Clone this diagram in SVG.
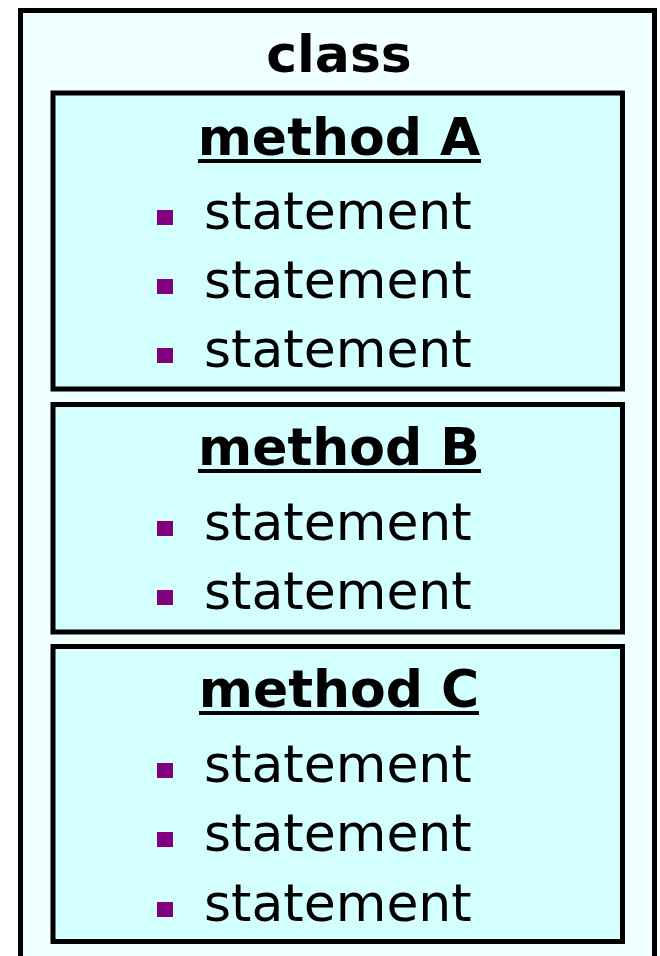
<svg xmlns="http://www.w3.org/2000/svg" width="660" height="956" viewBox="0 0 660 956">
<style>
.outer{fill:#F0FFFF;stroke:#000;stroke-width:5}
.box{fill:#D4FFFF;stroke:#000;stroke-width:5}
.title{font-family:"DejaVu Sans",Verdana,sans-serif;font-weight:bold;font-size:52px;fill:#000;text-anchor:middle}
.head{font-family:"DejaVu Sans",Verdana,sans-serif;font-weight:bold;font-size:52px;fill:#000;text-anchor:middle}
.st{font-family:"DejaVu Sans",Verdana,sans-serif;font-size:52px;fill:#000}
.bul{fill:#800080}
.ul{stroke:#000;stroke-width:4}
</style>
<g id="class">
<rect class="outer" x="20.5" y="10.5" width="634" height="980"/>
<text class="title" x="339" y="72">class</text>
</g>
<g id="methodA">
<rect class="box" x="53" y="93" width="569.5" height="296"/>
<text class="head" x="339" y="155">method A</text>
<line class="ul" x1="198" y1="161" x2="481" y2="161"/>
<rect class="bul" x="157" y="210" width="16" height="15"/>
<text class="st" x="204" y="229">statement</text>
<rect class="bul" x="157" y="279" width="16" height="15"/>
<text class="st" x="204" y="298">statement</text>
<rect class="bul" x="157" y="348" width="16" height="15"/>
<text class="st" x="204" y="367">statement</text>
</g>
<g id="methodB">
<rect class="box" x="53" y="404.5" width="569.5" height="227.5"/>
<text class="head" x="339" y="465">method B</text>
<line class="ul" x1="198" y1="471" x2="481" y2="471"/>
<rect class="bul" x="157" y="521" width="16" height="15"/>
<text class="st" x="204" y="540">statement</text>
<rect class="bul" x="157" y="590" width="16" height="15"/>
<text class="st" x="204" y="609">statement</text>
</g>
<g id="methodC">
<rect class="box" x="53" y="646.5" width="569.5" height="295"/>
<text class="head" x="339" y="707">method C</text>
<line class="ul" x1="199" y1="713" x2="479" y2="713"/>
<rect class="bul" x="157" y="763" width="16" height="15"/>
<text class="st" x="204" y="782">statement</text>
<rect class="bul" x="157" y="832" width="16" height="15"/>
<text class="st" x="204" y="851">statement</text>
<rect class="bul" x="157" y="902" width="16" height="15"/>
<text class="st" x="204" y="921">statement</text>
</g>
<g id="connectors"/>
</svg>
